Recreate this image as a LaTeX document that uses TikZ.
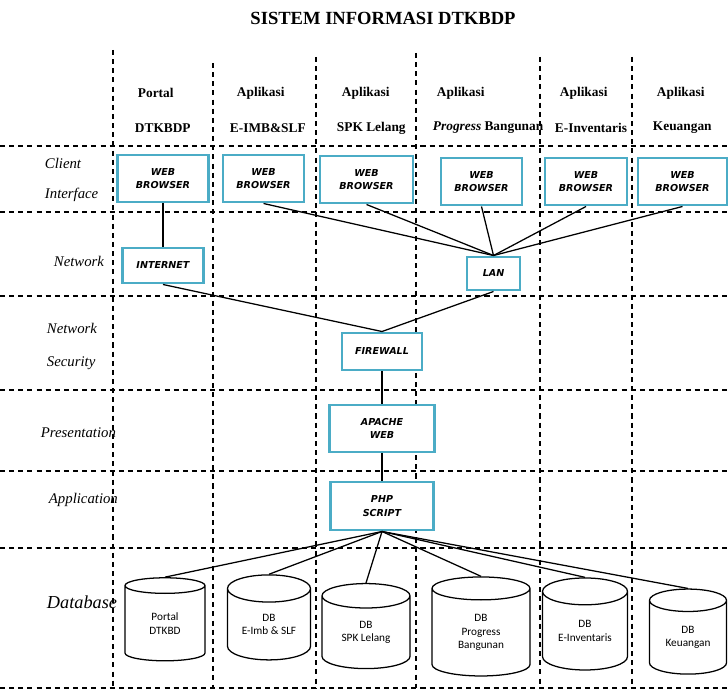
\documentclass[tikz,border=0pt]{standalone}
\usepackage{fontspec}
\setmainfont{Liberation Serif}
\newfontfamily\boxfont{DejaVu Sans}
\newfontfamily\dbfont{Carlito}
\usetikzlibrary{shapes.geometric}
\definecolor{boxteal}{RGB}{75,172,198}
\begin{document}
\begin{tikzpicture}[x=0.025cm, y=-0.025cm,
        grid/.style={line width=1.2pt, dash pattern=on 3.6pt off 2.9pt},
        link/.style={line width=0.9pt},
        webbox/.style={draw=boxteal, line width=2.1pt, fill=white, inner sep=0pt, align=center,
            font=\boxfont\bfseries\itshape\fontsize{6.8}{9.5}\selectfont},
        dbase/.style={cylinder, shape border rotate=90, shape aspect=0.5, draw, line width=0.9pt,
            fill=white, inner sep=0pt, align=center, font=\dbfont\fontsize{8}{9.5}\selectfont},
        head/.style={anchor=west, font=\bfseries\fontsize{9.5}{11}\selectfont},
        layer/.style={anchor=west, font=\itshape\fontsize{10.5}{12}\selectfont}]
    \useasboundingbox (0,0) rectangle (728,690);
    % title
    \node[font=\bfseries\fontsize{13.2}{15}\selectfont] (title) at (383,18) {SISTEM INFORMASI DTKBDP};
    % grid
    \draw[grid] (0,146) -- (728,146);
    \draw[grid] (0,212) -- (728,212);
    \draw[grid] (0,296) -- (728,296);
    \draw[grid] (0,390) -- (728,390);
    \draw[grid] (0,471) -- (728,471);
    \draw[grid] (0,548) -- (728,548);
    \draw[grid] (0,688) -- (728,688);
    \draw[grid] (113,50) -- (113,688);
    \draw[grid] (213,63) -- (213,688);
    \draw[grid] (316,57) -- (316,688);
    \draw[grid] (416,53) -- (416,688);
    \draw[grid] (540,57) -- (540,688);
    \draw[grid] (632,57) -- (632,688);
    % column heads
    \node[head] (h1a) at (133,93) {Portal};
    \node[head] (h1b) at (130,128) {DTKBDP};
    \node[head] (h2a) at (232,93) {Aplikasi};
    \node[head] (h2b) at (225,128) {E-IMB\&SLF};
    \node[head] (h3a) at (337,93) {Aplikasi};
    \node[head] (h3b) at (332,128) {SPK Lelang};
    \node[head] (h4a) at (432,93) {Aplikasi};
    \node[head] (h4b) at (428,128) {\itshape Progress\upshape{} Bangunan};
    \node[head] (h5a) at (555,93) {Aplikasi};
    \node[head] (h5b) at (550,128) {E-Inventaris};
    \node[head] (h6a) at (652,93) {Aplikasi};
    \node[head] (h6b) at (648,128) {Keuangan};
    % layers
    \node[layer] (l1a) at (40,163) {Client};
    \node[layer] (l1b) at (40,195) {Interface};
    \node[layer] (l2) at (49,261) {Network};
    \node[layer] (l3a) at (42,328) {Network};
    \node[layer] (l3b) at (42,363) {Security};
    \node[layer] (l4) at (36,433) {Presentation};
    \node[layer] (l5) at (44,500) {Application};
    \node[layer, font=\itshape\fontsize{13}{15}\selectfont] (l6) at (42,602) {Database};
    % boxes
    \node[webbox, minimum width=2.275cm, minimum height=1.175cm] (wb1) at (163,178.5) {WEB\\BROWSER};
    \node[webbox, minimum width=2.025cm, minimum height=1.175cm] (wb2) at (263.5,178.5) {WEB\\BROWSER};
    \node[webbox, minimum width=2.325cm, minimum height=1.175cm] (wb3) at (366.5,179.5) {WEB\\BROWSER};
    \node[webbox, minimum width=2.025cm, minimum height=1.175cm] (wb4) at (481.5,181.5) {WEB\\BROWSER};
    \node[webbox, minimum width=2.05cm, minimum height=1.175cm] (wb5) at (586,181.5) {WEB\\BROWSER};
    \node[webbox, minimum width=2.225cm, minimum height=1.175cm] (wb6) at (682.5,181.5) {WEB\\BROWSER};
    \node[webbox, minimum width=2.025cm, minimum height=0.875cm] (inet) at (163,265.5) {INTERNET};
    \node[webbox, minimum width=1.325cm, minimum height=0.825cm] (lan) at (493.5,273.5) {LAN};
    \node[webbox, minimum width=2.0cm, minimum height=0.925cm] (fw) at (382,351.5) {FIREWALL};
    \node[webbox, minimum width=2.625cm, minimum height=1.175cm] (apache) at (382,428.5) {APACHE\\WEB};
    \node[webbox, minimum width=2.575cm, minimum height=1.2cm] (php) at (382,506) {PHP\\SCRIPT};
    % databases
    \node[dbase, minimum width=2.0cm, minimum height=2.075cm] (db1) at (165,623.5) {Portal\\DTKBD};
    \node[dbase, minimum width=2.075cm, minimum height=2.125cm] (db2) at (269,624.5) {DB\\E-Imb \& SLF};
    \node[dbase, minimum width=2.2cm, minimum height=2.125cm] (db3) at (366,632.5) {DB\\SPK Lelang};
    \node[dbase, minimum width=2.45cm, minimum height=2.475cm] (db4) at (481,632.5) {DB\\Progress\\Bangunan};
    \node[dbase, minimum width=2.125cm, minimum height=2.3cm] (db5) at (585,631) {DB\\E-Inventaris};
    \node[dbase, minimum width=1.925cm, minimum height=2.125cm] (db6) at (688,637.5) {DB\\Keuangan};
    % connectors
    \draw[link] (wb1.south) -- (inet.north);
    \draw[link] (wb2.south) -- (lan.north);
    \draw[link] (wb3.south) -- (lan.north);
    \draw[link] (wb4.south) -- (lan.north);
    \draw[link] (wb5.south) -- (lan.north);
    \draw[link] (wb6.south) -- (lan.north);
    \draw[link] (inet.south) -- (fw.north);
    \draw[link] (lan.south) -- (fw.north);
    \draw[link] (fw.south) -- (apache.north);
    \draw[link] (apache.south) -- (php.north);
    \draw[link] (php.south) -- (db1.north);
    \draw[link] (php.south) -- (db2.north);
    \draw[link] (php.south) -- (db3.north);
    \draw[link] (php.south) -- (db4.north);
    \draw[link] (php.south) -- (db5.north);
    \draw[link] (php.south) -- (db6.north);
\end{tikzpicture}
\end{document}
